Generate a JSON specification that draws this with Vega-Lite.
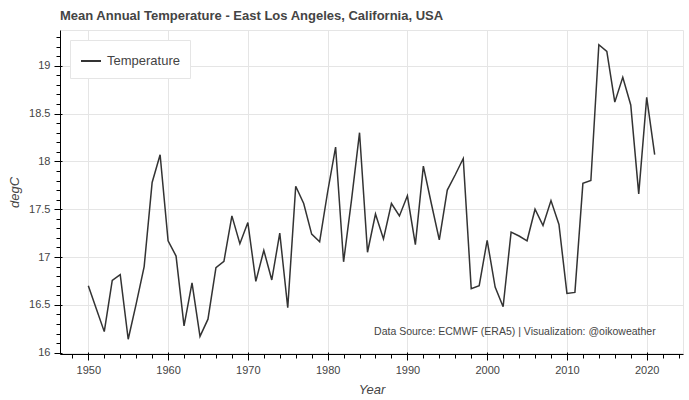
{
  "$schema": "https://vega.github.io/schema/vega-lite/v6.json",
  "width": 623,
  "height": 324,
  "autosize": {"type": "none"},
  "padding": {"left": 60, "top": 30, "right": 6, "bottom": 46},
  "background": "white",
  "config": {
    "view": {"stroke": "#e5e5e5"},
    "font": "Liberation Sans"
  },
  "title": {
    "text": "Mean Annual Temperature - East Los Angeles, California, USA",
    "anchor": "start",
    "frame": "group",
    "offset": 7,
    "fontSize": 13,
    "font": "Liberation Sans",
    "fontWeight": "bold",
    "color": "#444444"
  },
  "data": {
    "values": [
      {"Year": 1950, "Temperature": 16.70},
      {"Year": 1951, "Temperature": 16.46},
      {"Year": 1952, "Temperature": 16.22},
      {"Year": 1953, "Temperature": 16.755},
      {"Year": 1954, "Temperature": 16.815},
      {"Year": 1955, "Temperature": 16.14},
      {"Year": 1956, "Temperature": 16.51},
      {"Year": 1957, "Temperature": 16.90},
      {"Year": 1958, "Temperature": 17.78},
      {"Year": 1959, "Temperature": 18.07},
      {"Year": 1960, "Temperature": 17.17},
      {"Year": 1961, "Temperature": 17.01},
      {"Year": 1962, "Temperature": 16.28},
      {"Year": 1963, "Temperature": 16.73},
      {"Year": 1964, "Temperature": 16.17},
      {"Year": 1965, "Temperature": 16.35},
      {"Year": 1966, "Temperature": 16.89},
      {"Year": 1967, "Temperature": 16.955},
      {"Year": 1968, "Temperature": 17.43},
      {"Year": 1969, "Temperature": 17.14},
      {"Year": 1970, "Temperature": 17.36},
      {"Year": 1971, "Temperature": 16.745},
      {"Year": 1972, "Temperature": 17.07},
      {"Year": 1973, "Temperature": 16.76},
      {"Year": 1974, "Temperature": 17.25},
      {"Year": 1975, "Temperature": 16.47},
      {"Year": 1976, "Temperature": 17.74},
      {"Year": 1977, "Temperature": 17.56},
      {"Year": 1978, "Temperature": 17.24},
      {"Year": 1979, "Temperature": 17.16},
      {"Year": 1980, "Temperature": 17.68},
      {"Year": 1981, "Temperature": 18.15},
      {"Year": 1982, "Temperature": 16.95},
      {"Year": 1983, "Temperature": 17.60},
      {"Year": 1984, "Temperature": 18.30},
      {"Year": 1985, "Temperature": 17.05},
      {"Year": 1986, "Temperature": 17.45},
      {"Year": 1987, "Temperature": 17.19},
      {"Year": 1988, "Temperature": 17.56},
      {"Year": 1989, "Temperature": 17.43},
      {"Year": 1990, "Temperature": 17.64},
      {"Year": 1991, "Temperature": 17.13},
      {"Year": 1992, "Temperature": 17.95},
      {"Year": 1993, "Temperature": 17.56},
      {"Year": 1994, "Temperature": 17.18},
      {"Year": 1995, "Temperature": 17.70},
      {"Year": 1996, "Temperature": 17.86},
      {"Year": 1997, "Temperature": 18.03},
      {"Year": 1998, "Temperature": 16.67},
      {"Year": 1999, "Temperature": 16.70},
      {"Year": 2000, "Temperature": 17.175},
      {"Year": 2001, "Temperature": 16.685},
      {"Year": 2002, "Temperature": 16.48},
      {"Year": 2003, "Temperature": 17.26},
      {"Year": 2004, "Temperature": 17.22},
      {"Year": 2005, "Temperature": 17.17},
      {"Year": 2006, "Temperature": 17.50},
      {"Year": 2007, "Temperature": 17.33},
      {"Year": 2008, "Temperature": 17.59},
      {"Year": 2009, "Temperature": 17.34},
      {"Year": 2010, "Temperature": 16.62},
      {"Year": 2011, "Temperature": 16.63},
      {"Year": 2012, "Temperature": 17.77},
      {"Year": 2013, "Temperature": 17.80},
      {"Year": 2014, "Temperature": 19.22},
      {"Year": 2015, "Temperature": 19.15},
      {"Year": 2016, "Temperature": 18.62},
      {"Year": 2017, "Temperature": 18.88},
      {"Year": 2018, "Temperature": 18.59},
      {"Year": 2019, "Temperature": 17.66},
      {"Year": 2020, "Temperature": 18.67},
      {"Year": 2021, "Temperature": 18.07}
    ]
  },
  "layer": [
    {
      "mark": {"type": "line", "strokeWidth": 1.5},
      "encoding": {
        "x": {
          "field": "Year",
          "type": "quantitative",
          "scale": {"domain": [1946.45, 2024.55], "nice": false, "zero": false},
          "axis": {
            "orient": "bottom",
            "values": [1950, 1960, 1970, 1980, 1990, 2000, 2010, 2020],
            "format": "d",
            "grid": true,
            "gridColor": "#e5e5e5",
            "domainColor": "black",
            "tickColor": "black",
            "tickSize": 6,
            "labelPadding": 4,
            "labelFontSize": 11,
            "labelColor": "#444444",
            "labelFont": "Liberation Sans",
            "labelFlush": false,
            "labelOverlap": false,
            "title": "Year",
            "titleFont": "Liberation Sans",
            "titleFontSize": 13,
            "titleFontStyle": "italic",
            "titleFontWeight": "normal",
            "titleColor": "#444444",
            "titlePadding": 8
          }
        },
        "y": {
          "field": "Temperature",
          "type": "quantitative",
          "scale": {"domain": [15.986, 19.374], "nice": false, "zero": false},
          "axis": {
            "orient": "left",
            "values": [16, 16.5, 17, 17.5, 18, 18.5, 19],
            "format": "~g",
            "grid": true,
            "gridColor": "#e5e5e5",
            "domainColor": "black",
            "tickColor": "black",
            "tickSize": 6,
            "labelPadding": 4,
            "labelFontSize": 11,
            "labelColor": "#444444",
            "labelFont": "Liberation Sans",
            "labelFlush": false,
            "labelOverlap": false,
            "title": "degC",
            "titleFont": "Liberation Sans",
            "titleFontSize": 13,
            "titleFontStyle": "italic",
            "titleFontWeight": "normal",
            "titleColor": "#444444",
            "titlePadding": 7
          }
        },
        "color": {
          "datum": "Temperature",
          "type": "nominal",
          "scale": {"range": ["#333333"]},
          "legend": {
            "title": null,
            "orient": "top-left",
            "offset": 10,
            "padding": 10,
            "strokeColor": "#e5e5e5",
            "fillColor": "white",
            "symbolType": "stroke",
            "symbolStrokeWidth": 2,
            "symbolSize": 400,
            "labelFontSize": 13,
            "labelFont": "Liberation Sans",
            "labelColor": "#444444",
            "labelOffset": 5
          }
        }
      }
    },
    {
      "mark": {"type": "line", "opacity": 0},
      "encoding": {
        "x": {
          "field": "Year",
          "type": "quantitative",
          "axis": {
            "orient": "bottom",
            "values": [1950, 1960, 1970, 1980, 1990, 2000, 2010, 2020],
            "offset": -2,
            "tickSize": 2,
            "tickColor": "black",
            "domain": false,
            "labels": false,
            "grid": false,
            "title": null
          }
        },
        "y": {
          "field": "Temperature",
          "type": "quantitative",
          "axis": {
            "orient": "left",
            "values": [16, 16.5, 17, 17.5, 18, 18.5, 19],
            "offset": -2,
            "tickSize": 2,
            "tickColor": "black",
            "domain": false,
            "labels": false,
            "grid": false,
            "title": null
          }
        }
      }
    },
    {
      "mark": {"type": "line", "opacity": 0},
      "encoding": {
        "x": {
          "field": "Year",
          "type": "quantitative",
          "axis": {
            "orient": "bottom",
            "values": [1948, 1952, 1954, 1956, 1958, 1962, 1964, 1966, 1968, 1972, 1974, 1976, 1978, 1982, 1984, 1986, 1988, 1992, 1994, 1996, 1998, 2002, 2004, 2006, 2008, 2012, 2014, 2016, 2018, 2022, 2024],
            "tickSize": 4,
            "tickColor": "black",
            "domain": false,
            "labels": false,
            "grid": false,
            "title": null
          }
        },
        "y": {
          "field": "Temperature",
          "type": "quantitative",
          "axis": {
            "orient": "left",
            "values": [16.1, 16.2, 16.3, 16.4, 16.6, 16.7, 16.8, 16.9, 17.1, 17.2, 17.3, 17.4, 17.6, 17.7, 17.8, 17.9, 18.1, 18.2, 18.3, 18.4, 18.6, 18.7, 18.8, 18.9, 19.1, 19.2, 19.3],
            "tickSize": 4,
            "tickColor": "black",
            "domain": false,
            "labels": false,
            "grid": false,
            "title": null
          }
        }
      }
    },
    {
      "data": {"values": [{"note": "Data Source: ECMWF (ERA5) | Visualization: @oikoweather", "nx": 2021.13, "ny": 16.217}]},
      "mark": {"type": "text", "align": "right", "baseline": "middle", "fontSize": 10.5, "font": "Liberation Sans", "color": "#444444"},
      "encoding": {
        "x": {"field": "nx", "type": "quantitative", "axis": null},
        "y": {"field": "ny", "type": "quantitative", "axis": null},
        "text": {"field": "note"}
      }
    }
  ],
  "resolve": {"axis": {"x": "independent", "y": "independent"}}
}
